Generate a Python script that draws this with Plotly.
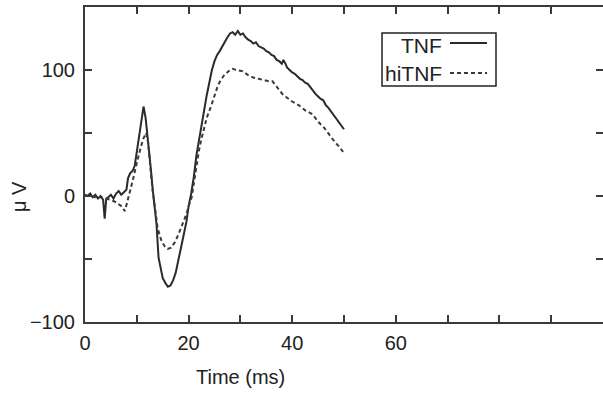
import plotly.graph_objects as go

# ---- data ----
tnf_t = [0, 0.5, 1, 1.5, 2, 2.5, 3, 3.5, 3.8, 4.1, 4.5, 5, 5.5, 6, 6.5, 7, 7.5, 8, 8.3, 8.7, 9.2, 9.6,
         10, 10.5, 11, 11.3, 11.7, 12.2, 12.7, 13.1, 13.5, 13.8, 14.2, 14.6, 15, 15.5, 16, 16.5, 17,
         17.5, 18, 18.6, 19.1, 19.6, 20, 20.5, 21, 21.5, 22, 22.5, 23, 23.5, 24, 24.5, 25, 25.5, 26,
         26.5, 27, 27.5, 28, 28.5, 29, 29.5, 30, 30.5, 31, 31.5, 32, 32.5, 33, 33.5, 34, 34.5, 35,
         35.5, 36, 36.5, 37, 37.5, 38, 38.3, 38.7, 39, 39.5, 40, 40.5, 41, 41.5, 42, 42.5, 43, 43.5,
         44, 44.5, 45, 45.5, 46, 46.5, 47, 47.5, 48, 48.5, 49, 49.5, 50]
tnf_v = [1, 0, 2, -1, 1, -2, 0, -3, -18, -2, -1, 1, -2, 2, 4, 1, 3, 5, 14, 18, 20, 24,
         35, 50, 65, 71, 62, 44, 22, 4, -12, -22, -49, -58, -65, -69, -72, -71, -67,
         -61, -52, -41, -30, -20, -8, 2, 15, 32, 45, 55, 68, 80, 90, 100, 107, 112, 115,
         119, 122, 126, 129, 130, 128, 131, 128, 129, 126, 124, 123, 121, 122, 119, 118, 117, 115,
         114, 112, 111, 108, 107, 105, 108, 105, 102, 100, 98, 97, 95, 93, 92, 90, 89, 86,
         84, 81, 79, 77, 76, 72, 70, 67, 64, 61, 58, 56, 53]

hitnf_t = [0, 1, 2, 3, 4, 5, 6, 7, 7.7, 8.2, 8.7, 9.2, 9.6, 10.1, 10.6, 11.2, 11.8, 12.2, 12.6, 13,
           13.5, 14, 14.4, 14.8, 15.4, 16, 16.6, 17.3, 18, 18.6, 19.1, 19.6, 20.1, 20.6, 21, 21.5,
           22, 22.4, 22.8, 23.5, 24.4, 25, 25.6, 26.2, 26.9, 27.7, 28.5, 29.2, 30.4, 31.5, 32.5,
           33.5, 34.5, 35.5, 36.2, 37, 38.1, 39, 40, 41.3, 42.5, 43.9, 45, 46.2, 47.2, 48.2, 49.1, 50]
hitnf_v = [0, 0, -1, -1, -2, -3, -5, -8, -12, -5, 4, 12, 20, 28, 36, 45, 50, 42, 24, 6,
           -9, -25, -31, -36, -40, -42, -41, -37, -31, -25, -19, -14, -7, -1, 10, 25,
           36, 44, 51, 62, 72, 80, 87, 92, 96, 99, 101, 100, 99, 96, 94,
           93, 92, 91, 91, 87, 81, 78, 75, 72, 68, 65, 59, 54, 48, 43, 39, 34]

x_tickvals = [0, 10, 20, 30, 40, 50, 60, 70, 80, 90]
x_ticktext = ["0", "", "20", "", "40", "", "60", "", "", ""]
y_tickvals = [-100, -50, 0, 50, 100]
y_ticktext = ["\u2212100", "", "0", "", "100"]
series_names = ["TNF", "hiTNF"]
x_title = "Time (ms)"
y_title = "\u03bc V"

FONT = "Liberation Sans, Arial, sans-serif"
AX = "#3a3a3a"
TXT = "#222"

fig = go.Figure()
fig.add_trace(go.Scatter(x=tnf_t, y=tnf_v, mode="lines", name=series_names[0],
                         line=dict(color="#2a2a2a", width=2)))
fig.add_trace(go.Scatter(x=hitnf_t, y=hitnf_v, mode="lines", name=series_names[1],
                         line=dict(color="#3a3a3a", width=2, dash="4px,3px")))

axis_common = dict(showgrid=False, zeroline=False, showline=True, linecolor=AX, linewidth=2,
                   ticks="inside", ticklen=7, tickwidth=1.5, tickcolor=AX, mirror="ticks",
                   automargin=False, tickfont=dict(family=FONT, size=20, color=TXT))

fig.update_xaxes(range=[0, 100], tickvals=x_tickvals, ticktext=x_ticktext,
                 ticklabelstandoff=2, **axis_common)
fig.update_yaxes(range=[-100, 150], tickvals=y_tickvals, ticktext=y_ticktext,
                 ticklabelstandoff=4, **axis_common)

W, H = 603, 393
L, R, T, B = 85, 0, 7, 71
pw, ph = W - L - R, H - T - B


def px_x(p):
    return (p - L) / pw


def px_y(p):
    return (H - B - p) / ph


# axis titles
fig.add_annotation(xref="paper", yref="paper", x=px_x(240), y=px_y(377), text=x_title,
                   showarrow=False, xanchor="center", yanchor="middle",
                   font=dict(family=FONT, size=20, color=TXT))
fig.add_annotation(xref="paper", yref="paper", x=px_x(19), y=px_y(197), text=y_title,
                   showarrow=False, xanchor="center", yanchor="middle", textangle=-90,
                   font=dict(family=FONT, size=20, color=TXT))

# manual legend (sample line to the right of the text)
fig.add_shape(type="rect", xref="paper", yref="paper", x0=px_x(382), x1=px_x(496),
              y0=px_y(86), y1=px_y(33), line=dict(color=TXT, width=1.5), fillcolor="white")
fig.add_annotation(xref="paper", yref="paper", x=px_x(444), y=px_y(45), text=series_names[0],
                   showarrow=False, xanchor="right", yanchor="middle",
                   font=dict(family=FONT, size=21, color=TXT))
fig.add_annotation(xref="paper", yref="paper", x=px_x(444), y=px_y(73), text=series_names[1],
                   showarrow=False, xanchor="right", yanchor="middle",
                   font=dict(family=FONT, size=21, color=TXT))
fig.add_shape(type="line", xref="paper", yref="paper", x0=px_x(450), x1=px_x(487),
              y0=px_y(43), y1=px_y(43), line=dict(color="#2a2a2a", width=2))
fig.add_shape(type="line", xref="paper", yref="paper", x0=px_x(450), x1=px_x(487),
              y0=px_y(73), y1=px_y(73), line=dict(color="#3a3a3a", width=2, dash="4px,3px"))

fig.update_layout(width=W, height=H, margin=dict(l=L, r=R, t=T, b=B, autoexpand=False),
                  paper_bgcolor="white", plot_bgcolor="white", showlegend=False,
                  font=dict(family=FONT, color=TXT))

fig.write_html("out.html", config={"displayModeBar": False},
               post_script="document.body.style.margin='0';document.body.style.overflow='hidden';")
